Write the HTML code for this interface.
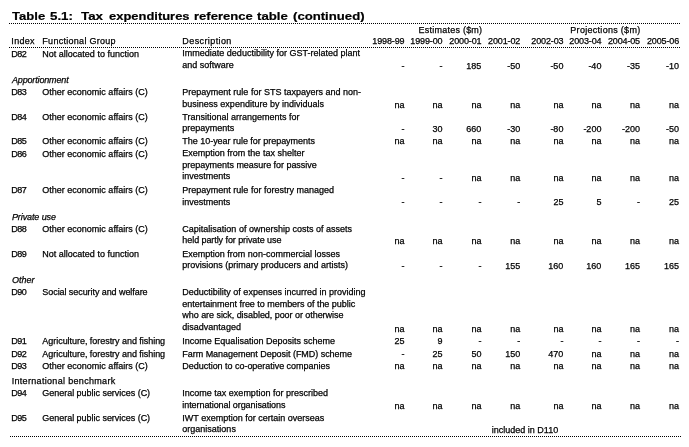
<!DOCTYPE html>
<html><head><meta charset="utf-8"><title>Table 5.1</title>
<style>
html,body{margin:0;padding:0;background:#fff;}
body{width:689px;height:447px;position:relative;overflow:hidden;font-family:"Liberation Sans",sans-serif;color:#000;}
.t{position:absolute;font-size:9px;line-height:10px;white-space:nowrap;-webkit-text-stroke:0.25px #000;}
.r{width:60px;text-align:right;}
.i{font-style:italic;}
.tw{position:absolute;top:9.5px;font-size:11.5px;line-height:13px;font-weight:bold;white-space:nowrap;transform-origin:0 0;-webkit-text-stroke:0.2px #000;}
.dot{position:absolute;height:1px;background:repeating-linear-gradient(90deg,#000 0,#000 1px,#fff 1px,#fff 2px);}
#w{position:absolute;left:0;top:0;width:689px;height:447px;will-change:transform;}
</style></head><body><div id="w">
<span class="tw" style="left:12.0px;transform:scaleX(1.1379)">Table</span><span class="tw" style="left:50.0px;transform:scaleX(1.1579)">5.1:</span><span class="tw" style="left:81.0px;transform:scaleX(1.1579)">Tax</span><span class="tw" style="left:109.0px;transform:scaleX(1.1252)">expenditures</span><span class="tw" style="left:194.0px;transform:scaleX(1.1346)">reference</span><span class="tw" style="left:257.0px;transform:scaleX(1.1481)">table</span><span class="tw" style="left:293.0px;transform:scaleX(1.1429)">(continued)</span>
<div class="dot" style="left:9px;width:671px;top:23px"></div>
<div class="dot" style="left:9px;width:671px;top:47px"></div>
<div class="dot" style="left:10px;width:671px;top:436px"></div>
<div class="t " style="left:11.35px;top:36px;letter-spacing:0.3px;">Index</div>
<div class="t " style="left:42.35px;top:36px;letter-spacing:0.28px;">Functional Group</div>
<div class="t " style="left:182.35px;top:36px;letter-spacing:0.4px;">Description</div>
<div class="t r " style="left:344.4px;top:36px;letter-spacing:-0.13px;">1998-99</div>
<div class="t r " style="left:382.4px;top:36px;letter-spacing:-0.13px;">1999-00</div>
<div class="t r " style="left:421.4px;top:36px;letter-spacing:-0.13px;">2000-01</div>
<div class="t r " style="left:460.2px;top:36px;letter-spacing:-0.13px;">2001-02</div>
<div class="t r " style="left:503.4px;top:36px;letter-spacing:-0.13px;">2002-03</div>
<div class="t r " style="left:541.4px;top:36px;letter-spacing:-0.13px;">2003-04</div>
<div class="t r " style="left:580.0px;top:36px;letter-spacing:-0.13px;">2004-05</div>
<div class="t r " style="left:619.1px;top:36px;letter-spacing:-0.13px;">2005-06</div>
<div class="t " style="left:418.6px;top:25px;letter-spacing:0.23px;">Estimates ($m)</div>
<div class="t " style="left:570.3px;top:25px;letter-spacing:0.29px;">Projections ($m)</div>
<div class="t " style="left:11.35px;top:49px;letter-spacing:-0.6px;">D82</div>
<div class="t " style="left:42.35px;top:49px;">Not allocated to function</div>
<div class="t " style="left:182.35px;top:48px;">Immediate deductibility for GST-related plant</div>
<div class="t " style="left:182.35px;top:60px;">and software</div>
<div class="t r " style="left:344.4px;top:61px;">-</div>
<div class="t r " style="left:382.4px;top:61px;">-</div>
<div class="t r " style="left:421.4px;top:61px;">185</div>
<div class="t r " style="left:460.2px;top:61px;">-50</div>
<div class="t r " style="left:503.4px;top:61px;">-50</div>
<div class="t r " style="left:541.4px;top:61px;">-40</div>
<div class="t r " style="left:580.0px;top:61px;">-35</div>
<div class="t r " style="left:619.1px;top:61px;">-10</div>
<div class="t i" style="left:11.95px;top:75px;letter-spacing:-0.15px;">Apportionment</div>
<div class="t " style="left:11.35px;top:87px;letter-spacing:-0.6px;">D83</div>
<div class="t " style="left:42.35px;top:87px;">Other economic affairs (C)</div>
<div class="t " style="left:182.35px;top:87px;">Prepayment rule for STS taxpayers and non-</div>
<div class="t " style="left:182.35px;top:99px;">business expenditure by individuals</div>
<div class="t r " style="left:344.4px;top:100px;">na</div>
<div class="t r " style="left:382.4px;top:100px;">na</div>
<div class="t r " style="left:421.4px;top:100px;">na</div>
<div class="t r " style="left:460.2px;top:100px;">na</div>
<div class="t r " style="left:503.4px;top:100px;">na</div>
<div class="t r " style="left:541.4px;top:100px;">na</div>
<div class="t r " style="left:580.0px;top:100px;">na</div>
<div class="t r " style="left:619.1px;top:100px;">na</div>
<div class="t " style="left:11.35px;top:112px;letter-spacing:-0.6px;">D84</div>
<div class="t " style="left:42.35px;top:112px;">Other economic affairs (C)</div>
<div class="t " style="left:182.35px;top:112px;">Transitional arrangements for</div>
<div class="t " style="left:182.35px;top:123px;">prepayments</div>
<div class="t r " style="left:344.4px;top:124px;">-</div>
<div class="t r " style="left:382.4px;top:124px;">30</div>
<div class="t r " style="left:421.4px;top:124px;">660</div>
<div class="t r " style="left:460.2px;top:124px;">-30</div>
<div class="t r " style="left:503.4px;top:124px;">-80</div>
<div class="t r " style="left:541.4px;top:124px;">-200</div>
<div class="t r " style="left:580.0px;top:124px;">-200</div>
<div class="t r " style="left:619.1px;top:124px;">-50</div>
<div class="t " style="left:11.35px;top:136px;letter-spacing:-0.6px;">D85</div>
<div class="t " style="left:42.35px;top:136px;">Other economic affairs (C)</div>
<div class="t " style="left:182.35px;top:136px;letter-spacing:-0.03px;">The 10-year rule for prepayments</div>
<div class="t r " style="left:344.4px;top:136px;">na</div>
<div class="t r " style="left:382.4px;top:136px;">na</div>
<div class="t r " style="left:421.4px;top:136px;">na</div>
<div class="t r " style="left:460.2px;top:136px;">na</div>
<div class="t r " style="left:503.4px;top:136px;">na</div>
<div class="t r " style="left:541.4px;top:136px;">na</div>
<div class="t r " style="left:580.0px;top:136px;">na</div>
<div class="t r " style="left:619.1px;top:136px;">na</div>
<div class="t " style="left:11.35px;top:149px;letter-spacing:-0.6px;">D86</div>
<div class="t " style="left:42.35px;top:149px;">Other economic affairs (C)</div>
<div class="t " style="left:182.35px;top:148px;">Exemption from the tax shelter</div>
<div class="t " style="left:182.35px;top:160px;letter-spacing:-0.04px;">prepayments measure for passive</div>
<div class="t " style="left:182.35px;top:171px;">investments</div>
<div class="t r " style="left:344.4px;top:173px;">-</div>
<div class="t r " style="left:382.4px;top:173px;">-</div>
<div class="t r " style="left:421.4px;top:173px;">na</div>
<div class="t r " style="left:460.2px;top:173px;">na</div>
<div class="t r " style="left:503.4px;top:173px;">na</div>
<div class="t r " style="left:541.4px;top:173px;">na</div>
<div class="t r " style="left:580.0px;top:173px;">na</div>
<div class="t r " style="left:619.1px;top:173px;">na</div>
<div class="t " style="left:11.35px;top:185px;letter-spacing:-0.6px;">D87</div>
<div class="t " style="left:42.35px;top:185px;">Other economic affairs (C)</div>
<div class="t " style="left:182.35px;top:185px;">Prepayment rule for forestry managed</div>
<div class="t " style="left:182.35px;top:197px;">investments</div>
<div class="t r " style="left:344.4px;top:197px;">-</div>
<div class="t r " style="left:382.4px;top:197px;">-</div>
<div class="t r " style="left:421.4px;top:197px;">-</div>
<div class="t r " style="left:460.2px;top:197px;">-</div>
<div class="t r " style="left:503.4px;top:197px;">25</div>
<div class="t r " style="left:541.4px;top:197px;">5</div>
<div class="t r " style="left:580.0px;top:197px;">-</div>
<div class="t r " style="left:619.1px;top:197px;">25</div>
<div class="t i" style="left:11.95px;top:212px;letter-spacing:-0.1px;">Private use</div>
<div class="t " style="left:11.35px;top:224px;letter-spacing:-0.6px;">D88</div>
<div class="t " style="left:42.35px;top:224px;">Other economic affairs (C)</div>
<div class="t " style="left:182.35px;top:224px;">Capitalisation of ownership costs of assets</div>
<div class="t " style="left:182.35px;top:235px;letter-spacing:-0.075px;">held partly for private use</div>
<div class="t r " style="left:344.4px;top:236px;">na</div>
<div class="t r " style="left:382.4px;top:236px;">na</div>
<div class="t r " style="left:421.4px;top:236px;">na</div>
<div class="t r " style="left:460.2px;top:236px;">na</div>
<div class="t r " style="left:503.4px;top:236px;">na</div>
<div class="t r " style="left:541.4px;top:236px;">na</div>
<div class="t r " style="left:580.0px;top:236px;">na</div>
<div class="t r " style="left:619.1px;top:236px;">na</div>
<div class="t " style="left:11.35px;top:249px;letter-spacing:-0.6px;">D89</div>
<div class="t " style="left:42.35px;top:249px;">Not allocated to function</div>
<div class="t " style="left:182.35px;top:249px;">Exemption from non-commercial losses</div>
<div class="t " style="left:182.35px;top:260px;">provisions (primary producers and artists)</div>
<div class="t r " style="left:344.4px;top:261px;">-</div>
<div class="t r " style="left:382.4px;top:261px;">-</div>
<div class="t r " style="left:421.4px;top:261px;">-</div>
<div class="t r " style="left:460.2px;top:261px;">155</div>
<div class="t r " style="left:503.4px;top:261px;">160</div>
<div class="t r " style="left:541.4px;top:261px;">160</div>
<div class="t r " style="left:580.0px;top:261px;">165</div>
<div class="t r " style="left:619.1px;top:261px;">165</div>
<div class="t i" style="left:11.95px;top:275px;">Other</div>
<div class="t " style="left:11.35px;top:287px;letter-spacing:-0.6px;">D90</div>
<div class="t " style="left:42.35px;top:287px;letter-spacing:-0.07px;">Social security and welfare</div>
<div class="t " style="left:182.35px;top:287px;">Deductibility of expenses incurred in providing</div>
<div class="t " style="left:182.35px;top:299px;letter-spacing:-0.03px;">entertainment free to members of the public</div>
<div class="t " style="left:182.35px;top:310px;letter-spacing:-0.05px;">who are sick, disabled, poor or otherwise</div>
<div class="t " style="left:182.35px;top:322px;">disadvantaged</div>
<div class="t r " style="left:344.4px;top:324px;">na</div>
<div class="t r " style="left:382.4px;top:324px;">na</div>
<div class="t r " style="left:421.4px;top:324px;">na</div>
<div class="t r " style="left:460.2px;top:324px;">na</div>
<div class="t r " style="left:503.4px;top:324px;">na</div>
<div class="t r " style="left:541.4px;top:324px;">na</div>
<div class="t r " style="left:580.0px;top:324px;">na</div>
<div class="t r " style="left:619.1px;top:324px;">na</div>
<div class="t " style="left:11.35px;top:336px;letter-spacing:-0.6px;">D91</div>
<div class="t " style="left:42.35px;top:336px;letter-spacing:-0.04px;">Agriculture, forestry and fishing</div>
<div class="t " style="left:182.35px;top:336px;">Income Equalisation Deposits scheme</div>
<div class="t r " style="left:344.4px;top:336px;">25</div>
<div class="t r " style="left:382.4px;top:336px;">9</div>
<div class="t r " style="left:421.4px;top:336px;">-</div>
<div class="t r " style="left:460.2px;top:336px;">-</div>
<div class="t r " style="left:503.4px;top:336px;">-</div>
<div class="t r " style="left:541.4px;top:336px;">-</div>
<div class="t r " style="left:580.0px;top:336px;">-</div>
<div class="t r " style="left:619.1px;top:336px;">-</div>
<div class="t " style="left:11.35px;top:349px;letter-spacing:-0.6px;">D92</div>
<div class="t " style="left:42.35px;top:349px;letter-spacing:-0.04px;">Agriculture, forestry and fishing</div>
<div class="t " style="left:182.35px;top:349px;letter-spacing:-0.04px;">Farm Management Deposit (FMD) scheme</div>
<div class="t r " style="left:344.4px;top:349px;">-</div>
<div class="t r " style="left:382.4px;top:349px;">25</div>
<div class="t r " style="left:421.4px;top:349px;">50</div>
<div class="t r " style="left:460.2px;top:349px;">150</div>
<div class="t r " style="left:503.4px;top:349px;">470</div>
<div class="t r " style="left:541.4px;top:349px;">na</div>
<div class="t r " style="left:580.0px;top:349px;">na</div>
<div class="t r " style="left:619.1px;top:349px;">na</div>
<div class="t " style="left:11.35px;top:361px;letter-spacing:-0.6px;">D93</div>
<div class="t " style="left:42.35px;top:361px;">Other economic affairs (C)</div>
<div class="t " style="left:182.35px;top:361px;letter-spacing:-0.03px;">Deduction to co-operative companies</div>
<div class="t r " style="left:344.4px;top:361px;">na</div>
<div class="t r " style="left:382.4px;top:361px;">na</div>
<div class="t r " style="left:421.4px;top:361px;">na</div>
<div class="t r " style="left:460.2px;top:361px;">na</div>
<div class="t r " style="left:503.4px;top:361px;">na</div>
<div class="t r " style="left:541.4px;top:361px;">na</div>
<div class="t r " style="left:580.0px;top:361px;">na</div>
<div class="t r " style="left:619.1px;top:361px;">na</div>
<div class="t " style="left:11.65px;top:376px;letter-spacing:0.32px;">International benchmark</div>
<div class="t " style="left:11.35px;top:388px;letter-spacing:-0.6px;">D94</div>
<div class="t " style="left:42.35px;top:388px;letter-spacing:-0.03px;">General public services (C)</div>
<div class="t " style="left:182.35px;top:388px;">Income tax exemption for prescribed</div>
<div class="t " style="left:182.35px;top:400px;letter-spacing:-0.075px;">international organisations</div>
<div class="t r " style="left:344.4px;top:401px;">na</div>
<div class="t r " style="left:382.4px;top:401px;">na</div>
<div class="t r " style="left:421.4px;top:401px;">na</div>
<div class="t r " style="left:460.2px;top:401px;">na</div>
<div class="t r " style="left:503.4px;top:401px;">na</div>
<div class="t r " style="left:541.4px;top:401px;">na</div>
<div class="t r " style="left:580.0px;top:401px;">na</div>
<div class="t r " style="left:619.1px;top:401px;">na</div>
<div class="t " style="left:11.35px;top:413px;letter-spacing:-0.6px;">D95</div>
<div class="t " style="left:42.35px;top:413px;letter-spacing:-0.03px;">General public services (C)</div>
<div class="t " style="left:182.35px;top:413px;">IWT exemption for certain overseas</div>
<div class="t " style="left:182.35px;top:424px;">organisations</div>
<div class="t " style="left:491.8px;top:425px;">included in D110</div>
</div></body></html>
